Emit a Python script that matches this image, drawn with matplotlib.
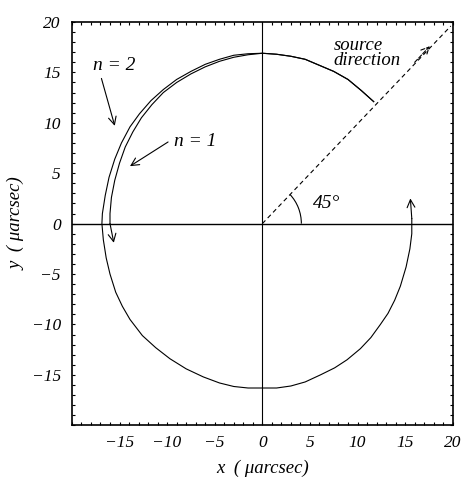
import matplotlib
matplotlib.use("Agg")
import matplotlib.pyplot as plt
from matplotlib.patches import Arc
from matplotlib.ticker import MultipleLocator

plt.rcParams['font.family'] = ['Liberation Serif', 'DejaVu Serif']
plt.rcParams['font.style'] = 'italic'

# outer track (n = 2), from the source point round to the right side
x_n2 = [11.7, 10.4, 9.0, 7.5, 6.0, 4.5, 3.0, 1.5, 0.0, -1.5, -3.0, -4.5, -6.0, -7.5, -9.0,
        -10.4, -11.7, -12.9, -13.9, -14.8, -15.5, -16.1, -16.5, -16.8, -16.85, -16.7, -16.4,
        -16.0, -15.4, -14.7, -13.9, -12.6, -11.2, -9.7, -8.0, -6.2, -4.5, -3.0, -1.5, 0.0,
        1.5, 3.0, 4.5, 6.1, 7.6, 8.9, 10.3, 11.4, 12.4, 13.2, 13.9, 14.5, 15.1, 15.5, 15.7,
        15.7, 15.55]
y_n2 = [12.1, 13.2, 14.3, 15.1, 15.7, 16.3, 16.6, 16.8, 16.9, 16.85, 16.7, 16.3, 15.8, 15.1, 14.3,
        13.3, 12.2, 10.9, 9.6, 8.0, 6.4, 4.6, 2.8, 1.0, 0.0, -1.6, -3.4,
        -5.0, -6.8, -8.2, -9.5, -11.1, -12.3, -13.4, -14.4, -15.2, -15.8, -16.15, -16.3, -16.3,
        -16.3, -16.1, -15.7, -15.0, -14.3, -13.5, -12.4, -11.3, -10.0, -8.9, -7.6, -6.2, -4.3, -2.5, -1.0,
        0.5, 2.5]

# inner track (n = 1)
x_n1 = [11.7, 10.4, 9.0, 7.5, 6.0, 4.5, 3.0, 1.5, 0.0, -1.5, -3.0, -4.5, -6.0, -7.5, -9.0,
        -10.4, -11.6, -12.7, -13.6, -14.4, -15.0, -15.5, -15.85, -16.0, -16.0, -15.6]
y_n1 = [12.1, 13.2, 14.3, 15.1, 15.7, 16.3, 16.6, 16.8, 16.9, 16.75, 16.5, 16.1, 15.55, 14.85, 14.0,
        13.0, 11.8, 10.5, 9.1, 7.6, 6.0, 4.3, 2.6, 1.0, 0.0, -1.9]

head = dict(arrowstyle='->', lw=0.8, color='black', shrinkA=0, shrinkB=0, mutation_scale=14)

fig = plt.figure(figsize=(4.64, 4.93), dpi=100)
ax = fig.add_axes([0.155, 0.1373, 0.8207, 0.8181])

ax.axhline(0, color='black', lw=1.0)
ax.axvline(0, color='black', lw=0.8)

ax.plot(x_n2[:-1], y_n2[:-1], color='black', lw=0.8)
ax.annotate('', xy=(x_n2[-1], y_n2[-1]), xytext=(x_n2[-2], y_n2[-2]), arrowprops=head)
ax.plot(x_n1[:-1], y_n1[:-1], color='black', lw=0.8)
ax.annotate('', xy=(x_n1[-1], y_n1[-1]), xytext=(x_n1[-2], y_n1[-2]), arrowprops=head)

# source direction
ax.plot([0, 19.8], [0, 19.6], color='black', lw=0.8, ls=(0, (4, 3)))
ax.annotate('', xy=(17.6, 17.6), xytext=(16.0, 16.0),
            arrowprops=dict(head, ls='--'))
ax.add_patch(Arc((0, 0), 8.2, 8.2, theta1=0, theta2=45, color='black', lw=0.8))

ax.text(6.8, 2.0, '45°', fontsize=14, ha='center', va='center')
ax.text(7.5, 18.5, 'source\ndirection', fontsize=13.5, ha='left', va='top', linespacing=0.85)
ax.text(-15.6, 15.7, 'n = 2', fontsize=14, ha='center', va='center')
ax.text(-7.1, 8.1, 'n = 1', fontsize=14, ha='center', va='center')

ax.annotate('', xy=(-15.5, 9.7), xytext=(-16.9, 14.4), arrowprops=head)
ax.annotate('', xy=(-13.9, 5.7), xytext=(-9.9, 8.1), arrowprops=head)

ax.set_xlim(-20, 20)
ax.set_ylim(-20, 20)
ax.set_xticks([-15, -10, -5, 0, 5, 10, 15, 20])
ax.set_yticks([-15, -10, -5, 0, 5, 10, 15, 20])
ax.xaxis.set_minor_locator(MultipleLocator(1))
ax.yaxis.set_minor_locator(MultipleLocator(1))
ax.tick_params(which='both', direction='in', top=True, right=True, length=2.5, width=0.8,
               labelsize=12.5)
ax.tick_params(axis='x', pad=7)
ax.tick_params(axis='y', pad=8)
for s in ax.spines.values():
    s.set_linewidth(1.2)

ax.set_xlabel('x  ( μarcsec)', fontsize=13.5, labelpad=6)
ax.set_ylabel('y  ( μarcsec)', fontsize=13.5, labelpad=4)

fig.savefig('out.png', dpi=100)
